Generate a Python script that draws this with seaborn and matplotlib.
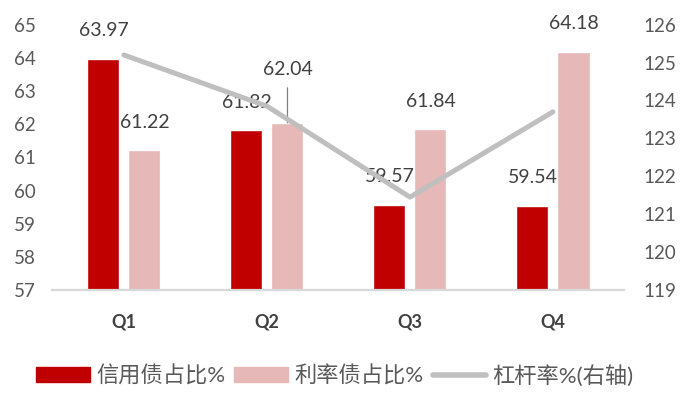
import matplotlib
matplotlib.use("Agg")
import matplotlib.pyplot as plt
import seaborn as sns
import pandas as pd
import numpy as np
from matplotlib.lines import Line2D
from matplotlib.patches import Patch

categories = ["Q1", "Q2", "Q3", "Q4"]
credit_share = [63.97, 61.82, 59.57, 59.54]
rate_share = [61.22, 62.04, 61.84, 64.18]
leverage = [125.2, 123.85, 121.45, 123.7]
series_names = ["信用债占比%", "利率债占比%", "杠杆率%(右轴)"]
left_ticks = [57, 58, 59, 60, 61, 62, 63, 64, 65]
right_ticks = [119, 120, 121, 122, 123, 124, 125, 126]

sns.set_style("white")
plt.rcParams["font.family"] = ["Lato", "Noto Sans CJK SC", "DejaVu Sans"]

c_credit = "#C00000"
c_rate = "#E6B8B7"
c_line = "#BFBFBF"
c_text = "#595959"

df = pd.DataFrame({
    "cat": categories * 2,
    "val": credit_share + rate_share,
    "series": [series_names[0]] * 4 + [series_names[1]] * 4,
})

fig = plt.figure(figsize=(6.81, 4.05), dpi=100)
ax = fig.add_axes([0.077, 0.284, 0.840, 0.655])
sns.barplot(data=df, x="cat", y="val", hue="series", order=categories,
            hue_order=series_names[:2], palette=[c_credit, c_rate],
            width=0.574, gap=0.22, ax=ax, legend=False, saturation=1)
ax.set_ylim(57, 65)
ax.set_xlim(-0.5, 3.5)
ax.set_yticks(left_ticks)
ax.set_xlabel("")
ax.set_ylabel("")

ax2 = ax.twinx()
sns.lineplot(x=np.arange(len(categories)), y=leverage, ax=ax2, color=c_line,
             linewidth=3.6, legend=False)
ax2.set_ylim(119, 126)
ax2.set_yticks(right_ticks)
ax2.set_ylabel("")

for a in (ax, ax2):
    for s in ["top", "left", "right", "bottom"]:
        a.spines[s].set_visible(False)
    a.tick_params(length=0, colors=c_text, labelsize=13.5)
ax.spines["bottom"].set_visible(True)
ax.spines["bottom"].set_color("#D9D9D9")
ax.spines["bottom"].set_linewidth(1.6)
ax.tick_params(axis="y", pad=12)
ax2.tick_params(axis="y", pad=14)
ax.tick_params(axis="x", pad=17)
for lbl in ax.get_xticklabels():
    lbl.set_fontweight("bold")
    lbl.set_color("#404040")
    lbl.set_fontsize(13)

# value labels
for ci, cont in enumerate(ax.containers):
    for i, p in enumerate(cont.patches):
        xc = p.get_x() + p.get_width() / 2
        h = p.get_height()
        if ci == 1 and i == 1:
            ax.annotate(f"{h:.2f}", xy=(xc, h), xytext=(0, 53),
                        textcoords="offset pixels", ha="center", va="center",
                        fontsize=14, color="#404040")
            ax.annotate("", xy=(xc, h), xytext=(0, 35),
                        textcoords="offset pixels",
                        arrowprops=dict(arrowstyle="-", color="#808080", lw=0.9,
                                        shrinkA=0, shrinkB=0))
        else:
            ax.annotate(f"{h:.2f}", xy=(xc, h), xytext=(0, 28),
                        textcoords="offset pixels", ha="center", va="center",
                        fontsize=14, color="#404040")

handles = [Patch(facecolor=c_credit, edgecolor=c_credit),
           Patch(facecolor=c_rate, edgecolor=c_rate),
           Line2D([0], [0], color=c_line, linewidth=4)]
leg = fig.legend(handles, series_names, loc="center", bbox_to_anchor=(0.492, 0.073),
                 ncol=3, frameon=False, fontsize=16, handlelength=2.4,
                 handleheight=0.7, handletextpad=0.3, columnspacing=0.4)
for t in leg.get_texts():
    t.set_color(c_text)

fig.savefig("out.png", dpi=100)
